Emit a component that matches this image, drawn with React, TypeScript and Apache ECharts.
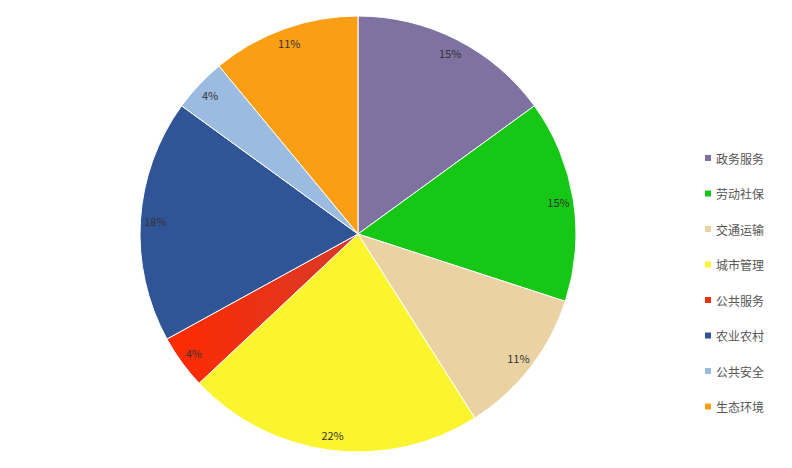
import { useEffect, useRef } from "react";
import * as echarts from "echarts";

const categories = ["政务服务", "劳动社保", "交通运输", "城市管理", "公共服务", "农业农村", "公共安全", "生态环境"];
const values = [15, 15, 11, 22, 4, 18, 4, 11];
const colors = ["#7f72a0", "#16c716", "#ead2a2", "#fbf52f", "#e8321e", "#2f5597", "#9bbbe1", "#fa9e14"];

export default function App() {
  const chartRef = useRef<HTMLDivElement>(null);

  useEffect(() => {
    if (!chartRef.current) return;
    const chart = echarts.init(chartRef.current, null, { renderer: "svg" });

    const fillFor = (i: number) =>
      categories[i] === "公共服务"
        ? new echarts.graphic.LinearGradient(0, 0, 1, 0, [
            { offset: 0, color: "#ff2a00" },
            { offset: 1, color: "#d63a2a" },
          ])
        : colors[i];

    const data = categories.map((name, i) => ({
      name,
      value: values[i],
      itemStyle: { color: fillFor(i) },
    }));

    chart.setOption({
      animation: false,
      textStyle: { fontFamily: "'Noto Sans CJK SC', sans-serif" },
      legend: {
        orient: "vertical",
        left: 690,
        top: 139,
        itemWidth: 8,
        itemHeight: 8,
        itemGap: 23.5,
        icon: "rect",
        data: categories,
        textStyle: { fontSize: 12, color: "#555", padding: [0, 0, 0, -1] },
      },
      series: [
        {
          type: "pie",
          center: [350, 226],
          radius: [0, 218],
          startAngle: 90,
          clockwise: true,
          label: { show: false },
          labelLine: { show: false },
          itemStyle: { borderColor: "#fff", borderWidth: 1 },
          data,
        },
        {
          type: "pie",
          center: [350, 226],
          radius: [182, 218],
          startAngle: 90,
          clockwise: true,
          silent: true,
          legendHoverLink: false,
          itemStyle: { color: "transparent", borderWidth: 0 },
          label: {
            show: true,
            position: "inside",
            fontSize: 11,
            color: "#333",
            formatter: (p: any) => Math.round(p.percent) + "%",
          },
          labelLine: { show: false },
          data: categories.map((name, i) => ({ name, value: values[i] })),
        },
      ],
    });

    return () => chart.dispose();
  }, []);

  return <div ref={chartRef} style={{ width: 776, height: 452 }} />;
}
